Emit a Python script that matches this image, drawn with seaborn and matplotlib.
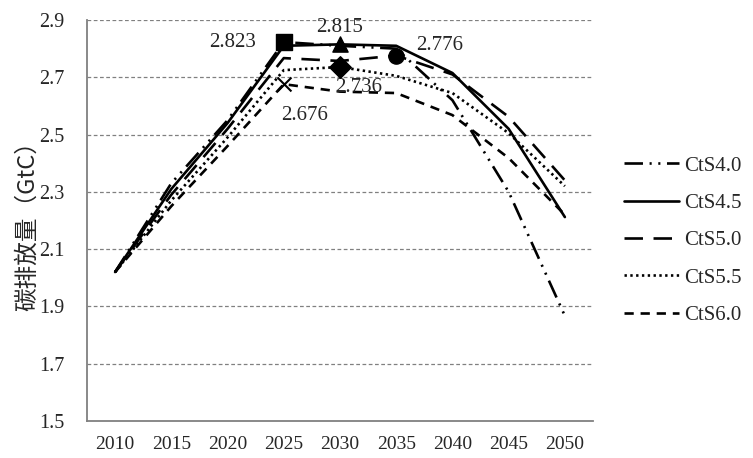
import pandas as pd
import numpy as np
import matplotlib
matplotlib.use('Agg')
import matplotlib.pyplot as plt
import seaborn as sns

# ================= 数据 =================
years = ['2010', '2015', '2020', '2025', '2030', '2035', '2040', '2045', '2050']
series_names = ['CtS4.0', 'CtS4.5', 'CtS5.0', 'CtS5.5', 'CtS6.0']

cts40 = [2.02, 2.33, 2.55, 2.823, 2.810, 2.800, 2.620, 2.300, 1.867]
cts45 = [2.02, 2.31, 2.54, 2.810, 2.815, 2.810, 2.715, 2.520, 2.212]
cts50 = [2.02, 2.29, 2.52, 2.767, 2.757, 2.776, 2.710, 2.562, 2.340]
cts55 = [2.02, 2.27, 2.49, 2.725, 2.736, 2.705, 2.645, 2.505, 2.320]
cts60 = [2.02, 2.25, 2.46, 2.676, 2.650, 2.645, 2.568, 2.418, 2.220]

# 标注的峰值点: (序列, 年份, 数值, 标记)
peak_series = ['CtS4.0', 'CtS4.5', 'CtS5.0', 'CtS5.5', 'CtS6.0']
peak_years = ['2025', '2030', '2035', '2030', '2025']
peak_values = [2.823, 2.815, 2.776, 2.736, 2.676]
peak_markers = ['s', '^', 'o', 'D', 'x']

y_ticks = [1.5, 1.7, 1.9, 2.1, 2.3, 2.5, 2.7, 2.9]

# ================= 整理 =================
values = {'CtS4.0': cts40, 'CtS4.5': cts45, 'CtS5.0': cts50,
          'CtS5.5': cts55, 'CtS6.0': cts60}
rows = []
for name in series_names:
    for i, v in enumerate(values[name]):
        rows.append({'idx': i, 'year': years[i], 'value': v, 'scenario': name})
df = pd.DataFrame(rows)

dash_map = {
    'CtS4.0': (7, 2.5, 0.8, 2.5, 0.8, 2.5),
    'CtS4.5': '',
    'CtS5.0': (7, 4),
    'CtS5.5': (0.9, 1.3),
    'CtS6.0': (3.5, 2.6),
}

sns.set_style('white')
plt.rcParams['font.family'] = ['Liberation Serif', 'Noto Sans CJK SC', 'DejaVu Sans']

fig = plt.figure(figsize=(7.53, 4.58), dpi=100)
ax = fig.add_axes([0.1155, 0.0808, 0.672, 0.8755])

sns.lineplot(data=df, x='idx', y='value', style='scenario', dashes=dash_map,
             color='black', linewidth=1.9, ax=ax, legend=True)

# 峰值标记
for s, yr, v, m in zip(peak_series, peak_years, peak_values, peak_markers):
    xi = years.index(yr)
    if m == 'x':
        ax.scatter([xi], [v], marker='x', s=100, color='black', linewidths=1.5, zorder=5)
    else:
        ax.scatter([xi], [v], marker=m, s=120, color='black', zorder=5)

# 数值标注 (相对标记的偏移)
ann_offsets = {
    '2.823': (-0.5, 0.0, 'right'),
    '2.815': (0.0, 0.06, 'center'),
    '2.776': (0.36, 0.034, 'left'),
    '2.736': (-0.09, -0.07, 'left'),
    '2.676': (-0.04, -0.108, 'left'),
}
for yr, v in zip(peak_years, peak_values):
    key = f'{v:.3f}'
    dx, dy, ha = ann_offsets[key]
    ax.text(years.index(yr) + dx, v + dy, key, ha=ha, va='center', fontsize=15)

# 坐标轴
ax.set_xlim(-0.5, len(years) - 0.5)
ax.set_ylim(1.5, 2.9)
ax.set_xticks(np.arange(len(years)))
ax.set_xticklabels(years, fontsize=14)
ax.set_xticks(np.arange(-0.5, len(years)), minor=True)
ax.tick_params(axis='x', which='major', length=0, pad=11)
ax.tick_params(axis='x', which='minor', length=7, width=1.2, color='#808080')
ax.set_yticks(y_ticks)
ax.set_yticklabels([f'{t:.1f}' for t in y_ticks], fontsize=14.5)
ax.tick_params(axis='y', length=7, width=1.2, color='#808080', pad=9)
ax.set_xlabel('')
ax.set_ylabel('碳排放量（GtC）', fontsize=17, family=['Noto Sans CJK SC', 'DejaVu Sans'], labelpad=0)

for t in y_ticks[1:]:
    ax.axhline(t, color='#808080', linestyle=(0, (3, 2)), linewidth=0.9, zorder=0)

for side in ['top', 'right']:
    ax.spines[side].set_visible(False)
for side in ['left', 'bottom']:
    ax.spines[side].set_color('#808080')
    ax.spines[side].set_linewidth(1.3)

handles, labels = ax.get_legend_handles_labels()
ax.legend(handles, labels, loc='center left', bbox_to_anchor=(1.025, 0.45),
          frameon=False, fontsize=15, handlelength=2.6, handletextpad=0.28,
          labelspacing=0.85)

fig.savefig('out.png', dpi=100)
